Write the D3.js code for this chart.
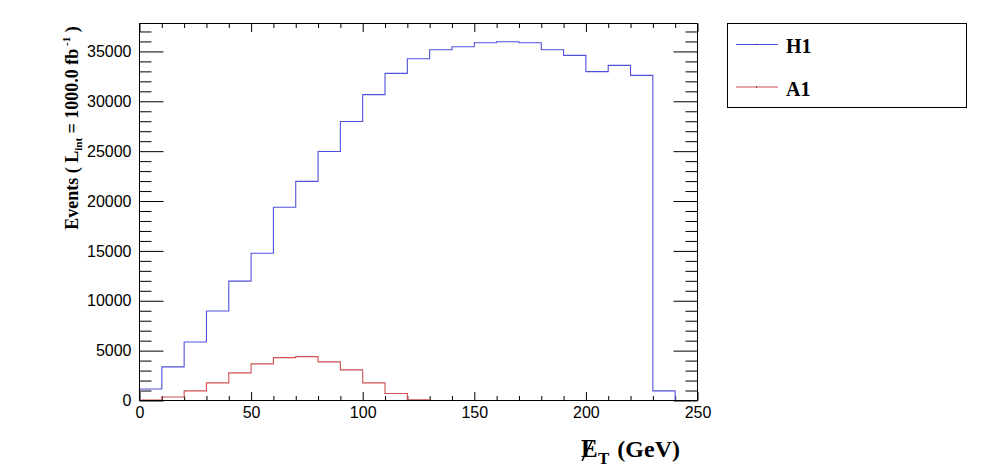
<!DOCTYPE html>
<html>
<head>
<meta charset="utf-8">
<script src="https://cdn.jsdelivr.net/npm/d3@7"></script>
<style>
  body { margin: 0; background: #fff; }
  .tick text { font-family: "Liberation Sans", Arial, sans-serif; font-size: 16px; fill: #000; }
  .domain { display: none; }
</style>
</head>
<body>
<div class="hist"></div>
<script>
// bin lower edges (GeV), 10 GeV wide
const binEdges = [0, 10, 20, 30, 40, 50, 60, 70, 80, 90, 100, 110, 120, 130, 140, 150, 160, 170, 180, 190, 200, 210, 220, 230, 240, 250];
const h1Values = [1150, 3370, 5870, 8970, 11970, 14770, 19370, 21970, 24970, 27970, 30670, 32800, 34270, 35170, 35470, 35870, 35970, 35870, 35170, 34600, 32970, 33600, 32600, 970, 0];
const a1Values = [50, 350, 970, 1770, 2770, 3670, 4300, 4400, 3870, 3070, 1770, 700, 70, 0, 0, 0, 0, 0, 0, 0, 0, 0, 0, 0, 0];
const xMajorTicks = [0, 50, 100, 150, 200, 250];
const xMinorTicks = [10, 20, 30, 40, 60, 70, 80, 90, 110, 120, 130, 140, 160, 170, 180, 190, 210, 220, 230, 240];
const yMajorTicks = [0, 5000, 10000, 15000, 20000, 25000, 30000, 35000];
const yMinorTicks = [1000, 2000, 3000, 4000, 6000, 7000, 8000, 9000, 11000, 12000, 13000, 14000, 16000, 17000, 18000, 19000,
    21000, 22000, 23000, 24000, 26000, 27000, 28000, 29000, 31000, 32000, 33000, 34000, 36000, 37000];
const series = [
    { name: 'H1', values: h1Values, color: '#5050dc' },
    { name: 'A1', values: a1Values, color: '#d05050' }
];

const width = 996, height = 472;
const frameLeft = 139.5, frameRight = 697.5, frameTop = 23.5, frameBottom = 400.5;

const svg = d3.select('.hist').append('svg')
    .attr('width', width)
    .attr('height', height);

const xScale = d3.scaleLinear().domain([0, 250]).range([frameLeft, frameRight]);
const yScale = d3.scaleLinear().domain([0, 37800]).range([frameBottom, frameTop]);

// ticks, ROOT style (inside the frame)
svg.append('g').attr('transform', `translate(0, ${frameBottom})`)
    .call(d3.axisBottom(xScale).tickValues(xMajorTicks).tickSize(-8.5).tickPadding(6).tickFormat(d3.format('d')));
svg.append('g').attr('transform', `translate(0, ${frameBottom})`)
    .call(d3.axisBottom(xScale).tickValues(xMinorTicks).tickSize(-4.5).tickFormat(''));
svg.append('g').attr('transform', `translate(0, ${frameTop})`)
    .call(d3.axisTop(xScale).tickValues(xMajorTicks).tickSize(-8.5).tickFormat(''));
svg.append('g').attr('transform', `translate(0, ${frameTop})`)
    .call(d3.axisTop(xScale).tickValues(xMinorTicks).tickSize(-4.5).tickFormat(''));

svg.append('g').attr('transform', `translate(${frameLeft}, 0)`)
    .call(d3.axisLeft(yScale).tickValues(yMajorTicks).tickSize(-24).tickPadding(8).tickFormat(d3.format('d')));
svg.append('g').attr('transform', `translate(${frameLeft}, 0)`)
    .call(d3.axisLeft(yScale).tickValues(yMinorTicks).tickSize(-12).tickFormat(''));
svg.append('g').attr('transform', `translate(${frameRight}, 0)`)
    .call(d3.axisRight(yScale).tickValues(yMajorTicks).tickSize(-24).tickFormat(''));
svg.append('g').attr('transform', `translate(${frameRight}, 0)`)
    .call(d3.axisRight(yScale).tickValues(yMinorTicks).tickSize(-12).tickFormat(''));

svg.selectAll('.tick line').attr('stroke', '#000');

// histogram outlines
function stepPath(values) {
    const pts = [[xScale(binEdges[0]), yScale(0)]];
    values.forEach((v, i) => {
        pts.push([xScale(binEdges[i]), yScale(v)]);
        pts.push([xScale(binEdges[i + 1]), yScale(v)]);
    });
    pts.push([xScale(binEdges[binEdges.length - 1]), yScale(0)]);
    return d3.line()(pts);
}

series.forEach(s => {
    svg.append('path')
        .attr('d', stepPath(s.values))
        .attr('fill', 'none')
        .attr('stroke', s.color)
        .attr('stroke-width', 1.1);
});

// frame
svg.append('rect')
    .attr('x', frameLeft).attr('y', frameTop)
    .attr('width', frameRight - frameLeft).attr('height', frameBottom - frameTop)
    .attr('fill', 'none').attr('stroke', '#000').attr('stroke-width', 1);

// y-axis title
const serif = '"Liberation Serif", "Times New Roman", serif';
const yTitle = svg.append('text')
    .attr('transform', 'translate(78, 128) rotate(-90)')
    .attr('text-anchor', 'middle')
    .style('font-family', serif)
    .style('font-weight', 'bold')
    .style('font-size', '18px');
yTitle.append('tspan').text('Events  ( L');
yTitle.append('tspan').attr('dy', 4).style('font-size', '11px').text('int');
yTitle.append('tspan').attr('dy', -4).text(' = 1000.0 fb');
yTitle.append('tspan').attr('dy', -8).style('font-size', '11px').text(' -1');
yTitle.append('tspan').attr('dy', 8).text(' )');

// x-axis title (missing transverse energy)
svg.append('text').attr('x', 581).attr('y', 457)
    .style('font-family', serif).style('font-weight', 'bold').style('font-size', '25px')
    .text('E');
svg.append('line')
    .attr('x1', 582).attr('y1', 461).attr('x2', 592).attr('y2', 441)
    .attr('stroke', '#000').attr('stroke-width', 1.6);
svg.append('text').attr('x', 598).attr('y', 464)
    .style('font-family', serif).style('font-weight', 'bold').style('font-size', '17px')
    .text('T');
svg.append('text').attr('x', 680).attr('y', 457)
    .attr('text-anchor', 'end')
    .style('font-family', serif).style('font-weight', 'bold').style('font-size', '24px')
    .text('(GeV)');

// legend
const legend = svg.append('g');
legend.append('rect')
    .attr('x', 727.5).attr('y', 23.5).attr('width', 239).attr('height', 84)
    .attr('fill', '#fff').attr('stroke', '#000').attr('stroke-width', 1);
series.forEach((s, i) => {
    const ly = 44.5 + i * 42.5;
    legend.append('line')
        .attr('x1', 736).attr('x2', 778).attr('y1', ly).attr('y2', ly)
        .attr('stroke', s.color).attr('stroke-width', 1.1);
    legend.append('rect')
        .attr('x', 756).attr('y', ly - 0.5).attr('width', 1).attr('height', 1)
        .attr('fill', '#000');
    legend.append('text')
        .attr('x', 786).attr('y', ly + 8.5)
        .style('font-family', serif).style('font-weight', 'bold').style('font-size', '20px')
        .text(s.name);
});
</script>
</body>
</html>
